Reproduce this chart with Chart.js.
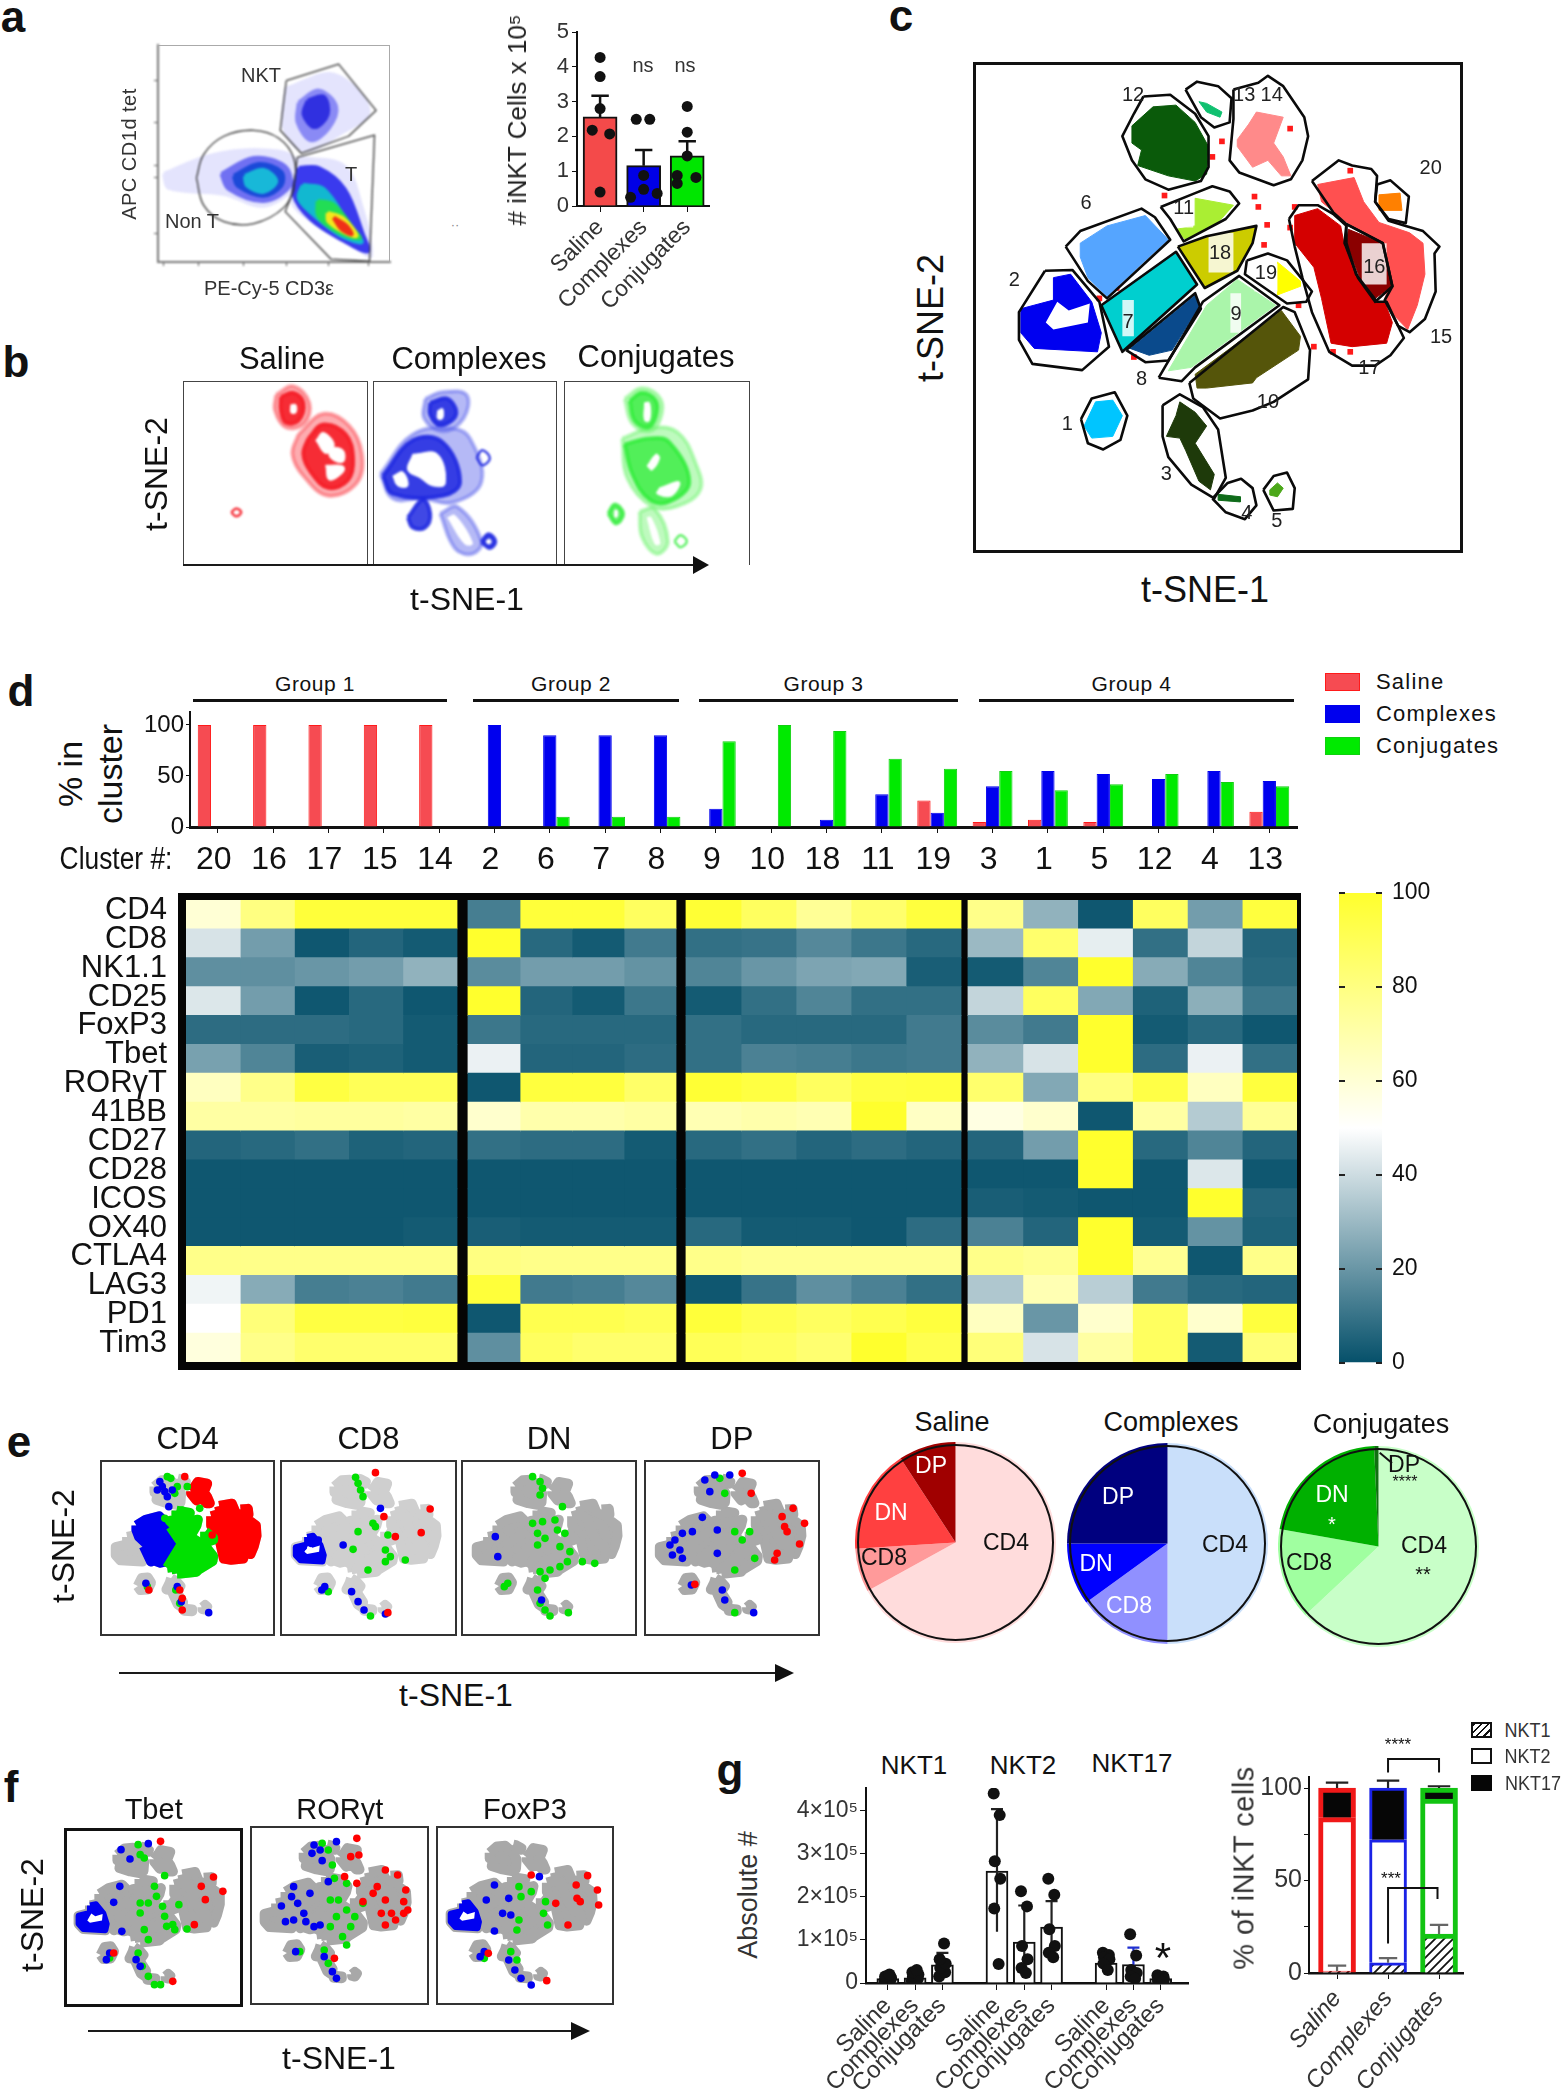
<!DOCTYPE html>
<html>
<head>
<meta charset="utf-8">
<title>iNKT t-SNE figure</title>
<script src="https://cdn.jsdelivr.net/npm/chart.js@4"></script>
<style>
  html, body { margin: 0; background: #fff; }
  #page { position: relative; width: 1561px; height: 2100px; overflow: hidden; font-family: "Liberation Sans", Arial, sans-serif; color: #111; }
  #page canvas { position: absolute; }
  .t { position: absolute; white-space: nowrap; line-height: 1; }
  .box { position: absolute; box-sizing: border-box; }
</style>
</head>
<body>
<div id="page"></div>
<script>
// ---------- data ----------
const groupNames = ["Saline", "Complexes", "Conjugates"];

// a: bars
const aMeans = [2.56, 1.16, 1.44];
const aErrorTops = [3.17, 1.61, 1.86];
const aDots = [
  [0, 4.27], [0, 3.72], [0, 2.8], [-0.18, 2.18], [0.22, 2.07], [0, 0.4],
  [0.83, 2.49], [1.14, 2.49], [1, 0.88], [0.7, 0.25], [1, 0.48], [1.31, 0.36],
  [2, 2.86], [2, 2.12], [2, 1.44], [1.77, 0.88], [2.2, 0.82], [1.77, 0.65],
];

// a: flow plot, gates and density layers (read in zoomed pixels)
const flowGates = [
  [[575,205],[680,163],[755,280],[700,345],[605,388],[563,330]],
  [[597,398],[752,342],[742,660],[665,655],[573,535],[590,480]],
];
const flowCircle = [[395,450],[410,390],[450,345],[510,330],[560,350],[590,400],[590,470],[570,525],[510,565],[450,560],[410,520],[395,450]];
const flowLayers = [
  ["#e4e4fd", [[600,400],[690,420],[725,520],[745,645],[720,630],[640,570],[585,505]]],
  ["#e4e4fd", [[330,440],[420,395],[520,380],[590,400],[590,470],[530,520],[450,490],[340,475]]],
  ["#e4e4fd", [[575,225],[670,190],[740,280],[680,340],[610,380],[570,320]]],
  ["#8a8af5", [[600,260],[640,230],[675,270],[660,325],[625,355],[598,310]]],
  ["#3030e0", [[618,255],[650,245],[658,290],[632,322],[610,290]]],
  ["#7070f2", [[445,440],[510,400],[572,420],[582,470],[530,508],[460,478]]],
  ["#1b49d8", [[470,445],[520,415],[565,435],[565,470],[528,495],[478,470]]],
  ["#18b8d8", [[492,445],[530,430],[555,458],[530,485],[497,470]]],
  ["#3a3aee", [[600,425],[640,425],[692,478],[728,590],[738,635],[690,608],[625,555],[590,492]]],
  ["#12b8d0", [[608,468],[650,478],[702,570],[726,612],[680,592],[620,532],[600,500]]],
  ["#22dd55", [[638,508],[670,518],[710,580],[722,602],[680,587],[640,547]]],
  ["#f2e81c", [[658,538],[690,553],[716,596],[690,586],[660,560]]],
  ["#f03018", [[670,550],[695,570],[706,592],[685,578]]],
];
const flowTicksX = [330, 400, 490, 575, 660, 740];
const flowTicksY = [205, 310, 420, 450, 590];

// b: contour blobs per group (zoomed pixels)
const salineOuter = [
  [[555,1000],[590,978],[622,1020],[612,1072],[575,1082],[553,1040]],
  [[600,1100],[650,1048],[702,1078],[728,1150],[718,1222],[660,1255],[610,1205],[588,1150]],
];
const salineInner = [
  [[565,1005],[590,995],[610,1020],[600,1065],[575,1070],[565,1040]],
  [[620,1110],[650,1075],[695,1100],[710,1160],[700,1215],[660,1235],[625,1195],[610,1150]],
];
const salineHoles = [
  [[585,1025],[595,1025],[595,1045],[585,1045]],
  [[635,1115],[650,1095],[672,1125],[655,1148]],
  [[660,1130],[690,1140],[690,1170],[665,1160]],
  [[655,1178],[690,1180],[690,1196],[662,1215]],
];
const salineRings = [[[465,1297],[475,1287],[485,1297],[475,1307]]];
const complexesOuter = [
  [[855,1010],[890,993],[938,1000],[932,1060],[890,1092],[853,1060]],
  [[765,1200],[830,1100],[910,1085],[945,1110],[968,1220],[910,1272],[850,1262],[790,1262]],
  [[885,1300],[920,1283],[968,1370],[950,1402],[915,1388]],
];
const complexesInner = [
  [[865,1020],[900,1010],[917,1050],[885,1077],[865,1050]],
  [[770,1205],[830,1115],[890,1120],[925,1220],[890,1255],[790,1250]],
  [[820,1310],[850,1265],[865,1300],[855,1335],[830,1335]],
  [[968,1372],[982,1352],[996,1370],[985,1387]],
];
const complexesHoles = [
  [[880,1040],[890,1035],[890,1060],[880,1060]],
  [[790,1205],[810,1195],[820,1230],[800,1230]],
  [[830,1150],[880,1150],[895,1225],[870,1230],[845,1210],[820,1190]],
  [[900,1310],[915,1305],[950,1375],[935,1377]],
  [[978,1368],[985,1365],[987,1374],[980,1376]],
];
const complexesRings = [[[958,1158],[970,1140],[985,1160],[970,1178]]];
const conjugatesOuter = [
  [[1255,1010],[1290,983],[1327,1010],[1327,1060],[1305,1092],[1270,1072]],
  [[1250,1110],[1310,1083],[1362,1095],[1397,1170],[1407,1240],[1360,1282],[1310,1282],[1260,1210]],
  [[1285,1295],[1315,1288],[1342,1370],[1320,1402],[1290,1360]],
];
const conjugatesInner = [
  [[1265,1015],[1290,995],[1318,1015],[1318,1055],[1302,1082],[1275,1065]],
  [[1255,1125],[1305,1110],[1345,1120],[1385,1220],[1345,1270],[1305,1265],[1270,1200]],
  [[1222,1300],[1235,1277],[1252,1300],[1238,1325]],
];
const conjugatesHoles = [
  [[1295,1020],[1305,1020],[1305,1065],[1295,1065]],
  [[1325,1235],[1365,1220],[1350,1255],[1320,1250]],
  [[1300,1310],[1308,1310],[1326,1375],[1316,1377]],
  [[1235,1292],[1240,1292],[1240,1308],[1235,1308]],
  [[1300,1180],[1310,1190],[1325,1160],[1318,1150]],
];
const conjugatesRings = [[[1355,1370],[1367,1355],[1380,1370],[1367,1385]]];

// c: t-SNE clusters (zoomed pixels)
const clusterGates = {
  1: [[472,1100],[500,1040],[560,1022],[593,1090],[575,1160],[530,1188],[490,1170]],
  2: [[378,670],[450,668],[520,760],[545,890],[475,958],[345,940],[310,870],[310,790]],
  3: [[685,1060],[730,1028],[790,1065],[830,1130],[850,1270],[820,1330],[760,1290],[700,1210],[685,1150]],
  4: [[815,1330],[855,1285],[890,1273],[920,1300],[930,1350],[900,1390],[850,1370]],
  5: [[948,1305],[975,1265],[1010,1255],[1030,1300],[1025,1360],[975,1365]],
  6: [[432,600],[470,555],[630,490],[665,515],[705,580],[540,750],[490,700]],
  7: [[525,770],[720,615],[775,710],[580,905]],
  8: [[590,900],[770,735],[785,780],[700,930],[640,935]],
  9: [[675,980],[790,760],[885,685],[990,770],[770,950],[735,990]],
  10: [[755,995],[1000,775],[1030,790],[1070,900],[1065,985],[975,1050],[920,1075],[835,1098],[765,1040]],
  11: [[680,485],[770,445],[815,425],[860,440],[885,475],[850,520],[740,585],[705,520]],
  12: [[635,165],[705,160],[770,215],[805,280],[805,370],[785,410],[700,435],[640,405],[605,350],[580,280],[610,215]],
  13: [[745,145],[775,122],[830,135],[865,170],[860,240],[820,255],[785,225]],
  14: [[870,145],[935,125],[960,105],[1000,135],[1055,225],[1065,280],[1050,350],[1020,405],[975,422],[885,385],[860,350],[870,230]],
  15: [[1075,410],[1145,350],[1180,365],[1230,375],[1245,395],[1240,470],[1275,525],[1320,540],[1365,555],[1408,600],[1395,620],[1398,730],[1370,810],[1330,848],[1300,830],[1265,755],[1285,715],[1260,590],[1165,535],[1130,500]],
  16: [[1165,535],[1260,590],[1285,715],[1240,760],[1195,690],[1160,590]],
  17: [[1015,520],[1040,480],[1090,480],[1130,505],[1165,540],[1165,590],[1190,680],[1245,760],[1270,760],[1300,830],[1315,865],[1280,915],[1240,945],[1180,945],[1120,905],[1075,790],[1050,690],[1030,600]],
  18: [[725,600],[800,570],[930,540],[920,590],[880,670],[795,720]],
  19: [[905,640],[960,620],[1010,640],[1075,730],[1060,760],[1010,765],[900,680]],
  20: [[1245,420],[1280,408],[1328,455],[1320,532],[1275,520],[1240,470]],
};
const clusterFills = {
  1: [[480,1120],[510,1050],[555,1045],[580,1090],[555,1150],[500,1155]],
  2: [[400,690],[445,680],[500,760],[525,850],[515,905],[350,895],[315,850],[315,780],[400,755]],
  3: [[730,1050],[770,1080],[800,1120],[770,1170],[820,1260],[810,1305],[780,1280],[745,1190],[730,1155],[695,1150],[720,1090]],
  4: [[830,1318],[888,1325],[888,1340],[830,1335]],
  5: [[965,1305],[985,1285],[1000,1300],[985,1325],[965,1320]],
  6: [[470,590],[540,540],[640,510],[700,580],[640,640],[540,745],[490,690],[470,630]],
  7: [[525,770],[720,615],[775,710],[580,905]],
  8: [[600,895],[770,740],[780,775],[710,900],[650,915]],
  9: [[700,960],[800,770],[880,695],[980,770],[760,950]],
  10: [[775,1010],[770,970],[995,785],[1045,860],[1040,900],[930,980],[920,995],[800,1010]],
  11: [[770,460],[870,480],[830,530],[745,580],[720,550],[770,540]],
  12: [[605,250],[660,195],[720,190],[770,240],[805,310],[800,390],[770,410],[700,395],[620,365],[630,320],[605,300]],
  13: [[780,180],[800,185],[840,210],[835,225],[800,210]],
  14: [[880,290],[910,245],[930,210],[1000,225],[975,300],[1000,340],[1020,395],[995,395],[960,350],[920,370],[880,310]],
  15: [[1090,420],[1185,400],[1210,470],[1250,530],[1330,560],[1365,590],[1370,680],[1350,770],[1325,840],[1290,800],[1265,750],[1280,710],[1265,600],[1160,525],[1100,470]],
  16: [[1170,550],[1260,590],[1285,715],[1240,750],[1200,690],[1165,590]],
  17: [[1030,510],[1090,490],[1150,540],[1160,600],[1190,680],[1240,760],[1265,760],[1285,820],[1270,880],[1180,890],[1125,880],[1100,750],[1080,660],[1030,590]],
  18: [[725,600],[800,570],[930,540],[920,590],[880,670],[795,720]],
  19: [[985,645],[1045,700],[1045,715],[985,740]],
  20: [[1250,450],[1305,445],[1310,495],[1250,495]],
};
const clusterColours = {
  1: "#00c5ff", 2: "#0000f0", 3: "#1e3a0a", 4: "#0f6b1a", 5: "#4ca81a", 6: "#55a5ff", 7: "#00cfcf",
  8: "#0a4a8c", 9: "#aaf5aa", 10: "#55550a", 11: "#aaee33", 12: "#0a5a0a", 13: "#10c070", 14: "#ff8a8a",
  15: "#ff5050", 16: "#8b0000", 17: "#d40000", 18: "#cccc00", 19: "#ffff00", 20: "#ff8000",
};
const clusterHole2 = [[380,820],[410,760],[440,785],[495,765],[490,820],[400,840]];
const paleBoxes = [
  [[725,465],[765,465],[765,545],[725,545]],
  [[805,560],[870,560],[870,675],[805,675]],
  [[580,755],[610,755],[610,860],[580,860]],
  [[862,735],[890,735],[890,850],[862,850]],
  [[1205,590],[1270,590],[1270,710],[1205,710]],
  [[925,650],[985,650],[985,730],[925,730]],
];
const strayRedDots = [[840,295],[815,340],[925,455],[935,485],[958,537],[950,595],[690,452],[1175,380],[1030,485],[1080,890],[1130,905],[1175,905],[1040,770],[520,750],[565,720],[610,920],[1018,545],[1018,258]];
const clusterLabels = [
  ["12",608,158],["13",898,158],["14",970,158],["20",1385,368],["6",485,472],["11",740,485],["18",835,615],
  ["19",955,675],["16",1238,655],["2",298,693],["7",595,815],["9",877,792],["15",1412,860],["17",1225,948],
  ["8",630,980],["10",960,1048],["1",436,1112],["3",695,1255],["4",905,1368],["5",983,1392],
];

// d: bars
const clusterOrder = ["20","16","17","15","14","2","6","7","8","9","10","18","11","19","3","1","5","12","4","13"];
const salinePercent = [100,100,100,100,100,0,0,0,0,0,0,0,0,26,5,7,5,0,0,15];
const complexesPercent = [0,0,0,0,0,100,90,90,90,18,0,7,32,14,40,55,52,47,55,45];
const conjugatesPercent = [0,0,0,0,0,0,10,10,10,84,100,94,67,57,55,36,42,52,44,40];

// d: heatmap
const markers = ["CD4","CD8","NK1.1","CD25","FoxP3","Tbet","RORγT","41BB","CD27","CD28","ICOS","OX40","CTLA4","LAG3","PD1","Tim3"];
const heatValues = [
  [60,80,97,97,97, 13,97,97,88, 98,88,75,85,96, 78,28,2,88,22,96],
  [42,22,2,6,3, 100,7,3,12, 9,10,16,11,7, 30,85,45,9,38,6],
  [18,18,20,22,28, 17,22,22,19, 15,20,24,25,4, 3,15,100,26,15,7],
  [43,22,2,7,2, 100,6,3,11, 3,9,15,9,9, 38,88,25,5,27,11],
  [8,8,8,7,3, 11,7,7,7, 9,7,7,7,12, 17,12,100,3,7,2],
  [23,15,4,5,3, 46,6,6,8, 9,14,13,11,12, 28,42,100,8,46,9],
  [65,78,95,90,90, 2,96,96,86, 98,95,88,95,96, 85,25,80,94,65,96],
  [72,72,73,73,72, 62,70,70,72, 68,70,68,100,64, 57,62,2,72,35,75],
  [6,7,9,5,6, 9,8,8,3, 7,9,6,8,6, 6,22,100,7,15,6],
  [2,2,2,2,2, 2,2,2,2, 2,2,2,2,2, 2,2,100,2,43,2],
  [2,2,2,2,2, 2,2,2,2, 2,2,2,2,2, 4,3,2,2,100,6],
  [2,2,2,2,3, 4,3,3,3, 7,3,3,2,8, 14,6,100,3,19,5],
  [78,78,78,78,78, 80,78,78,78, 78,76,76,76,76, 78,76,100,76,2,78],
  [47,26,13,14,12, 97,12,13,16, 2,10,18,14,9, 34,68,36,12,7,6],
  [50,82,95,95,96, 2,92,92,90, 97,92,88,92,96, 65,20,62,88,62,96],
  [58,78,85,85,85, 18,88,85,85, 90,88,84,100,92, 82,42,72,88,3,82],
];
const groupSizes = [5, 4, 5, 6];
const groupTitles = ["Group 1", "Group 2", "Group 3", "Group 4"];

// e: maps
const eNames = ["CD4", "CD8", "DN", "DP"];
const eGrays = ["#c4c4c4", "#cfcfcf", "#adadad", "#a9a9a9"];
const eClusterTints = [
  { "#ff0000": [14,15,16,17,20], "#0000f0": [6,7,8], "#00e000": [9,10,11,18,19] },
  { "#0000f0": [2] }, {}, {},
];
const eBlue = [
  [[205,290],[195,300],[215,320],[210,305],[225,300],[172,580],[298,668],[235,590],[243,635],[200,275],[218,350]],
  [[520,450],[505,460],[490,470],[570,465],[645,355],[527,600],[533,590],[587,605],[600,635],[612,660],[655,672]],
  [[875,440],[880,500],[968,630]],
  [[1250,430],[1270,425],[1235,450],[1225,465],[1245,480],[1230,495],[1250,505],[1290,382],[1320,420],[1320,490],[1295,270],[1305,305],[1315,255],[1345,255],[1268,585],[1330,600],[1335,630],[1393,668]],
];
const eGreen = [
  [[215,260],[235,290],[230,310],[222,265],[255,290],[175,590],[232,600],[240,640],[210,385],[245,360],[280,355]],
  [[595,262],[600,280],[605,300],[610,320],[600,425],[630,400],[635,410],[660,435],[655,480],[665,500],[655,515],[590,478],[695,510],[620,540],[625,678],[540,605]],
  [[950,260],[965,275],[970,295],[965,315],[950,400],[970,395],[995,390],[1000,420],[975,445],[960,430],[1005,470],[1025,485],[1020,515],[1005,530],[965,545],[985,540],[975,565],[1010,350],[1015,430],[1050,515],[1075,520],[960,465],[900,580],[893,590],[960,600],[965,640],[975,660],[985,678],[1022,668]],
  [[1355,425],[1385,425],[1370,450],[1355,540],[1325,265],[1355,668],[1335,310],[1395,505]],
];
const eRed = [
  [[250,260],[240,600],[245,625],[178,600],[245,660],[305,435]],
  [[745,357],[727,428],[635,248],[652,380],[675,440],[660,668]],
  [],
  [[1370,250],[1472,355],[1450,380],[1455,410],[1460,425],[1495,400],[1440,490],[1435,510],[1485,462],[1275,583],[1388,310]],
];

// e: pies, clockwise from the top
const pieSlices = ["CD4", "CD8", "DN", "DP"];
const salinePie = [67, 7, 16.8, 9.2];
const complexesPie = [50, 15, 10, 25];
const conjugatesPie = [63, 14.8, 21.5, 0.7];

// f: maps
const fNames = ["Tbet", "RORγt", "FoxP3"];
const fClusterTints = [{ "#0000f0": [2] }, {}, { "#0000f0": [2] }];
const fBlue = [
  [[280,398],[295,350],[300,485],[298,240],[320,268],[365,222],[262,570],[270,550],[335,570],[345,590]],
  [[770,225],[765,250],[785,240],[790,272],[825,215],[720,350],[715,380],[760,370],[690,408],[730,400],[745,430],[700,455],[720,450],[750,455],[770,470],[785,465],[725,545],[795,560],[815,605],[825,625],[805,335]],
  [[1190,390],[1210,345],[1245,385],[1230,430],[1250,435],[1210,483],[1320,320],[1175,560],[1185,545],[1245,570],[1260,600],[1275,625],[1300,645]],
];
const fGreen = [
  [[345,255],[355,265],[340,225],[405,318],[380,350],[385,380],[365,400],[345,430],[355,480],[365,510],[400,410],[405,440],[425,465],[430,480],[410,470],[440,405],[460,478],[340,550],[350,590],[365,620],[380,645],[395,645],[270,565],[345,400]],
  [[790,220],[805,240],[815,285],[820,325],[850,340],[810,390],[830,390],[850,420],[825,440],[870,440],[890,400],[810,470],[840,500],[850,525],[795,540],[735,545],[805,580],[860,470]],
  [[1270,350],[1300,365],[1275,380],[1335,395],[1330,430],[1340,465],[1270,450],[1265,480],[1250,545],[1265,570],[1185,565]],
];
const fRed = [
  [[395,215],[525,322],[495,350],[505,390],[548,365],[478,465],[425,635],[280,550]],
  [[875,205],[860,260],[880,255],[845,320],[875,340],[890,395],[945,300],[975,315],[925,350],[915,370],[945,390],[995,360],[990,395],[935,430],[960,430],[990,430],[1000,420],[945,465],[970,450],[820,565]],
  [[1438,317],[1410,345],[1462,360],[1412,385],[1420,395],[1465,405],[1390,465],[1300,315],[1195,550],[1338,632],[1360,400]],
];

// g: absolute numbers (x 10^5)
const gSets = ["NKT1", "NKT2", "NKT17"];
const gSlots = [0, 1, 2, 4, 5, 6, 8, 9, 10];
const gMeans = [0.1, 0.12, 0.42, 2.6, 0.95, 1.3, 0.46, 0.43, 0.1];
const gErrorLows = [0.05, 0.05, 0.15, 1.19, 0.4, 0.7, 0.2, 0.1, 0.05];
const gErrorHighs = [0.18, 0.25, 0.7, 4.04, 1.8, 1.9, 0.72, 0.82, 0.16];
const gDots = [
  [.05,.08,.1,.12,.15,.2], [.05,.1,.15,.2,.25,.3], [.15,.25,.35,.45,.55,.92],
  [4.4,3.9,2.83,2.42,1.73,.44], [2.13,1.78,.86,.55,.35,.23], [2.42,2.05,1.25,.86,.7,.6],
  [.7,.65,.6,.55,.45,.3], [1.13,.64,.3,.23,.15,.1], [.18,.15,.1,.08,.05,.03],
];
const gJitter = [-0.12, 0.1, -0.08, 0.12, -0.1, 0.06];
const gTicks = [0, 1, 2, 3, 4];

// g: stacked percentages
const nkt1Share = [1, 5.5, 21];
const nkt2Share = [83, 66.5, 73];
const nkt17Share = [16, 28, 6];
const shareErrorTops = [103, 104, 101];
const nkt1ErrorTops = [4, 8, 26];

// ---------- helpers ----------
const page = document.getElementById("page");
Chart.defaults.font.family = '"Liberation Sans", Arial, sans-serif';
Chart.defaults.color = "#111";
Chart.defaults.animation = false;
Chart.defaults.events = [];
Chart.defaults.plugins.legend.display = false;
Chart.defaults.plugins.tooltip.enabled = false;

function label(x, y, str, size, opts = {}) {
  const d = document.createElement("div");
  d.className = "t";
  d.textContent = str;
  d.style.left = x + "px";
  d.style.top = y + "px";
  d.style.fontSize = size + "px";
  d.style.transform = `translate(-50%,-50%) rotate(${opts.rot || 0}deg) scaleX(${opts.sx || 1})`;
  if (opts.color) d.style.color = opts.color;
  if (opts.weight) d.style.fontWeight = opts.weight;
  if (opts.spacing) d.style.letterSpacing = opts.spacing;
  page.appendChild(d);
  return d;
}

function rect(x0, y0, x1, y1, css) {
  const d = document.createElement("div");
  d.className = "box";
  d.style.cssText += `left:${x0}px;top:${y0}px;width:${x1 - x0}px;height:${y1 - y0}px;${css}`;
  page.appendChild(d);
  return d;
}

function arrow(x0, x1, y, thick, headLen, headHalf) {
  rect(x0, y - thick / 2, x1 - headLen + 2, y + thick / 2, "background:#1a1a1a");
  rect(x1 - headLen, y - headHalf, x1, y + headHalf,
    `width:0;height:0;border-left:${headLen}px solid #111;border-top:${headHalf}px solid transparent;border-bottom:${headHalf}px solid transparent`);
}

// Plot area in page pixels plus a margin around it for the axes
function drawChart(area, pad, config) {
  const [x0, y0, x1, y1] = area;
  const { l = 0, r = 0, t = 0, b = 0 } = pad;
  const canvas = document.createElement("canvas");
  canvas.width = Math.round(x1 - x0 + l + r);
  canvas.height = Math.round(y1 - y0 + t + b);
  canvas.style.left = x0 - l + "px";
  canvas.style.top = y0 - t + "px";
  page.appendChild(canvas);
  const padding = { left: l, right: r, top: t, bottom: b };
  const scales = config.options.scales || {};
  const noPadding = (a) => { a.paddingTop = a.paddingBottom = a.paddingLeft = a.paddingRight = 0; };
  for (const id in scales) {
    const s = scales[id];
    if (s.display === false) continue;
    if (id === "x") { s.afterFit = (a) => { a.height = b; noPadding(a); }; padding.bottom = 0; }
    if (id === "y" && s.position === "right") { s.afterFit = (a) => { a.width = r; noPadding(a); }; padding.right = 0; }
    else if (id === "y") { s.afterFit = (a) => { a.width = l; noPadding(a); }; padding.left = 0; }
  }
  config.options.responsive = false;
  config.options.layout = { autoPadding: false, padding };
  return new Chart(canvas, config);
}

function shape(points, fillColour, lineColour, lineWidth = 0, more = {}) {
  const closed = [...points, points[0]].map(([x, y]) => ({ x, y }));
  return {
    type: "scatter", showLine: true, data: closed, pointRadius: 0, tension: 0, borderJoinStyle: "round",
    fill: fillColour ? "shape" : false,
    backgroundColor: fillColour || "transparent",
    borderColor: lineColour || "transparent",
    borderWidth: lineWidth,
    ...more,
  };
}

function path(points, colour, width, more = {}) {
  return {
    type: "scatter", showLine: true, data: points.map(([x, y]) => ({ x, y })), pointRadius: 0, tension: 0,
    fill: false, borderColor: colour, borderWidth: width, ...more,
  };
}

function dots(points, colour, radius, more = {}) {
  return {
    type: "scatter", data: points.map(([x, y]) => ({ x, y })), pointRadius: radius,
    pointBackgroundColor: colour, pointBorderWidth: 0, showLine: false, ...more,
  };
}

// Error bar stem and cap as one line dataset
function errorBar(x, low, high, cap, colour, width = 2, more = {}) {
  return path([[x, low], [x, high], [x - cap, high], [x + cap, high]], colour, width, more);
}

// Chart.js paints the first dataset last, so layers listed bottom first get reversed
const bottomUp = (layers) => layers.slice().reverse();

function hiddenScales(xr, yr) {
  return {
    x: { type: "linear", display: false, min: xr[0], max: xr[1] },
    y: { type: "linear", display: false, min: yr[0], max: yr[1], reverse: true },
  };
}

function heatColour(v) {
  const low = [5, 80, 106], mid = [255, 255, 255], high = [255, 255, 45];
  const [a, b, t] = v < 50 ? [low, mid, v / 50] : [mid, high, (v - 50) / 50];
  const c = a.map((ch, i) => Math.round(ch + (b[i] - ch) * t));
  return `rgb(${c[0]},${c[1]},${c[2]})`;
}

// ---------- panel letters ----------
[["a",13,17],["b",16,362],["c",901,16],["d",21,691],["e",19,1442],["f",11,1787],["g",730,1770]].forEach(([s, x, y]) =>
  label(x, y, s, 44, { weight: "bold" }));

// ---------- a: flow plot ----------
const flowChart = drawChart([158, 45, 390, 262], { l: 8, b: 8, t: 2, r: 2 }, {
  type: "scatter",
  data: { datasets: bottomUp([
    ...flowLayers.map(([c, p]) => shape(p, c, c, 4, { tension: 0.35 })),
    ...flowGates.map((g) => shape(g, null, "#333", 1.3)),
    path(flowCircle, "#333", 1.3, { tension: 0.4 }),
  ]) },
  options: { scales: {
    x: { type: "linear", min: 318, max: 783, border: { color: "#777", width: 2 },
      grid: { drawOnChartArea: false, color: "#555", tickLength: 4 },
      afterBuildTicks: (a) => { a.ticks = flowTicksX.map((value) => ({ value })); },
      ticks: { callback: () => "" } },
    y: { type: "linear", min: 115, max: 662, reverse: true, border: { color: "#777", width: 2 },
      grid: { drawOnChartArea: false, color: "#555", tickLength: 4 },
      afterBuildTicks: (a) => { a.ticks = flowTicksY.map((value) => ({ value })); },
      ticks: { callback: () => "" } },
  } },
});
flowChart.canvas.style.filter = "blur(0.9px)";
rect(158, 45, 390, 262, "border-top:1.5px solid #aaa;border-right:1.5px solid #aaa");
label(261, 75, "NKT", 20, { color: "#333" });
label(192, 221, "Non T", 20, { color: "#333" });
label(351, 174, "T", 20, { color: "#333" });
label(269, 288, "PE-Cy-5 CD3ε", 20, { color: "#333" });
label(129, 154, "APC CD1d tet", 20, { rot: -90, color: "#333", spacing: "0.5px" });
label(455, 224, "··", 13, { color: "#888" });

// ---------- a: bars ----------
drawChart([577, 32.4, 709, 206], { l: 60, b: 110, t: 10, r: 4 }, {
  type: "bar",
  data: { datasets: bottomUp([
    { type: "bar", data: aMeans.map((y, x) => ({ x, y })), barThickness: 34,
      backgroundColor: ["#f44a4a", "#0000e6", "#00e600"], borderColor: "#111", borderWidth: 2 },
    ...aMeans.map((m, i) => errorBar(i, m, aErrorTops[i], 0.2, "#111", 2.5)),
    dots(aDots, "#111", 5.5),
  ]) },
  options: { scales: {
    x: { type: "linear", min: -0.53, max: 2.5, offset: false,
      border: { color: "#111", width: 2 }, grid: { drawOnChartArea: false, color: "#111", tickLength: 6, offset: false },
      afterBuildTicks: (a) => { a.ticks = groupNames.map((_, value) => ({ value })); },
      ticks: { autoSkip: false, minRotation: 45, maxRotation: 45, padding: 2, color: "#333", font: { size: 23 },
        callback: (v, i) => groupNames[i] } },
    y: { type: "linear", min: 0, max: 5, border: { color: "#111", width: 2 },
      grid: { drawOnChartArea: false, color: "#111", tickLength: 5 },
      ticks: { stepSize: 1, color: "#333", padding: 3, font: { size: 22 } } },
  } },
});
label(517, 120, "# iNKT Cells x 10⁵", 26, { rot: -90, color: "#222" });
label(643, 65, "ns", 20, { color: "#333" });
label(685, 65, "ns", 20, { color: "#333" });

// ---------- b: contour panels ----------
function contourPanel(xr, outer, inner, holes, rings, colour, outerAlpha) {
  const yr = [965, 1430];
  const soft = { tension: 0.4 };
  const c = drawChart([xr[0] / 2.01, yr[0] / 2.53, xr[1] / 2.01, yr[1] / 2.53], {}, {
    type: "scatter",
    data: { datasets: bottomUp([
      ...outer.map((p) => shape(p, outerAlpha, outerAlpha, 4, soft)),
      ...inner.map((p) => shape(p, colour, colour, 4, soft)),
      ...holes.map((p) => shape(p, "#fff", "#fff", 1, soft)),
      ...rings.map((p) => shape(p, null, colour, 2.5, soft)),
    ]) },
    options: { scales: hiddenScales(xr, yr) },
  });
  c.canvas.style.filter = "blur(1.2px)";
  rect(xr[0] / 2.01, yr[0] / 2.53, xr[1] / 2.01, yr[1] / 2.53, "border:1.5px solid #444;border-bottom:none");
}
contourPanel([368, 740], salineOuter, salineInner, salineHoles, salineRings, "rgba(245,30,40,0.9)", "rgba(250,70,80,0.45)");
contourPanel([750, 1120], complexesOuter, complexesInner, complexesHoles, complexesRings, "rgba(30,40,225,0.85)", "rgba(90,100,235,0.45)");
contourPanel([1133, 1507], conjugatesOuter, conjugatesInner, conjugatesHoles, conjugatesRings, "rgba(40,235,50,0.72)", "rgba(110,245,110,0.45)");
arrow(183, 709, 565, 2, 16, 9);
label(282, 358, "Saline", 31);
label(469, 358, "Complexes", 31);
label(656, 356, "Conjugates", 31);
label(156, 474, "t-SNE-2", 32, { rot: -90 });
label(467, 599, "t-SNE-1", 32);

// ---------- c: t-SNE clusters ----------
const clusterIds = Object.keys(clusterGates);
const tsneChart = drawChart([972.7, 62.4, 1463.3, 553], {}, {
  type: "scatter",
  data: { datasets: bottomUp([
    dots(strayRedDots, "#ff1a1a", 4, { pointStyle: "rect" }),
    ...clusterIds.map((id) => shape(clusterFills[id], clusterColours[id], clusterColours[id], 1)),
    shape(clusterHole2, "#fff"),
    ...paleBoxes.map((p) => shape(p, "rgba(255,255,255,0.82)")),
    ...clusterIds.map((id) => shape(clusterGates[id], null, "#0a0a0a", 2.6)),
  ]) },
  options: { scales: hiddenScales([190, 1472], [65, 1488]) },
});
tsneChart.canvas.style.filter = "blur(0.6px)";
rect(972.7, 62.4, 1463.3, 553, "border:3.5px solid #111");
clusterLabels.forEach(([s, x, y]) => {
  const px = tsneChart.canvas.offsetLeft + tsneChart.scales.x.getPixelForValue(x);
  const py = tsneChart.canvas.offsetTop + tsneChart.scales.y.getPixelForValue(y);
  label(px, py, s, 20, { color: "#222" });
});
label(931, 318, "t-SNE-2", 36, { rot: -90 });
label(1205, 590, "t-SNE-1", 36);

// ---------- d: cluster bars ----------
const barSeries = [
  ["Saline", salinePercent, "#f64b52", "#ff1a1a"],
  ["Complexes", complexesPercent, "#0000ee", "#0000ee"],
  ["Conjugates", conjugatesPercent, "#00ea00", "#10d010"],
];
drawChart([190.3, 712, 1297.7, 827], { l: 60, b: 50, t: 6, r: 6 }, {
  type: "bar",
  data: { labels: clusterOrder, datasets: barSeries.map(([name, values, fill, line]) => ({
    label: name, data: values, backgroundColor: fill, borderColor: line, borderWidth: 1,
    barPercentage: 1, categoryPercentage: 0.72,
  })) },
  options: { scales: {
    x: { border: { color: "#111", width: 3 }, grid: { drawOnChartArea: false, offset: false, color: "#111", tickLength: 6 },
      ticks: { autoSkip: false, maxRotation: 0, padding: 8, labelOffset: -4, font: { size: 32 } } },
    y: { min: 0, max: 112.7, border: { color: "#111", width: 2 }, grid: { drawOnChartArea: false, color: "#111", tickLength: 4 },
      ticks: { stepSize: 50, includeBounds: false, padding: 2, font: { size: 24 } } },
  } },
});
label(70, 774, "% in", 34, { rot: -90 });
label(110, 774, "cluster", 34, { rot: -90 });
label(116, 858, "Cluster #:", 31, { sx: 0.85 });
[[193, 447], [473, 679], [699, 958], [979, 1294]].forEach(([a, b], i) => {
  rect(a, 699, b, 701.5, "background:#111");
  label((a + b) / 2 - 5, 683, groupTitles[i], 21, { spacing: "0.6px" });
});
barSeries.forEach(([name, , fill, line], i) => {
  const y = [682, 714, 746][i];
  rect(1325, y - 9, 1360, y + 9, `background:${fill};border:1px solid ${line}`);
  label(1376, y, name, 22, { spacing: "1.2px" }).style.transform = "translate(0,-50%)";
});

// ---------- d: heatmap ----------
rect(178, 893, 1301, 1370, "background:#050505");
const groupColumnWidths = [54.2, 52, 55, 54.83];
const groupGapWidths = [11, 10, 7, 0];
const columnEdges = [];
let edge = 0;
groupSizes.forEach((n, g) => {
  for (let c = 0; c < n; c++) { columnEdges.push([edge, edge + groupColumnWidths[g]]); edge += groupColumnWidths[g]; }
  edge += groupGapWidths[g];
});
drawChart([186, 900, 1297, 1362], { l: 186, t: 10, b: 10 }, {
  type: "bar",
  data: { labels: markers, datasets: columnEdges.map(([from, to], c) => ({
    data: markers.map(() => [from, to]),
    backgroundColor: heatValues.map((row) => heatColour(row[c])),
    grouped: false, barPercentage: 1, categoryPercentage: 1, borderWidth: 0, inflateAmount: 0.4,
  })) },
  options: { indexAxis: "y", scales: {
    x: { type: "linear", display: false, min: 0, max: edge },
    y: { border: { display: false }, grid: { display: false },
      ticks: { autoSkip: false, padding: 11, labelOffset: -4, font: { size: 31 } } },
  } },
});

// ---------- d: colour bar ----------
drawChart([1339, 893, 1382, 1363], { r: 70, l: 2, t: 14, b: 14 }, {
  type: "bar",
  data: { labels: [""], datasets: [{
    data: [100], barPercentage: 1, categoryPercentage: 1, borderWidth: 0,
    backgroundColor: (ctx) => {
      const a = ctx.chart.chartArea;
      if (!a) return "#fff";
      const g = ctx.chart.ctx.createLinearGradient(0, a.bottom, 0, a.top);
      [0, 50, 100].forEach((v) => g.addColorStop(v / 100, heatColour(v)));
      return g;
    },
  }] },
  options: { scales: {
    x: { display: false },
    y: { position: "right", min: 0, max: 100, border: { dash: [6, 31, 6], display: false },
      grid: { z: 1, color: "#222", lineWidth: 2, drawTicks: false },
      ticks: { stepSize: 20, padding: 10, font: { size: 23 } } },
  } },
});

// ---------- e and f: small t-SNE maps ----------
function mapPanel(area, zoomX, zoomY, cRange, gray, tints, blue, green, red, frame) {
  const tintOf = {};
  Object.entries(tints).forEach(([colour, ids]) => ids.forEach((id) => { tintOf[id] = colour; }));
  const onZoom = { xAxisID: "xp", yAxisID: "yp" };
  const scales = hiddenScales([cRange[0], cRange[1]], [cRange[2], cRange[3]]);
  scales.xp = { type: "linear", axis: "x", display: false, min: zoomX[0], max: zoomX[1] };
  scales.yp = { type: "linear", axis: "y", display: false, min: zoomY[0], max: zoomY[1], reverse: true };
  const c = drawChart(area, {}, {
    type: "scatter",
    data: { datasets: bottomUp([
      ...clusterIds.map((id) => shape(clusterFills[id], gray, gray, 10)),
      ...clusterIds.filter((id) => tintOf[id]).map((id) => shape(clusterFills[id], tintOf[id], tintOf[id], id === "2" ? 6 : 10)),
      ...(tintOf[2] ? [shape(clusterHole2, "#fff")] : []),
      dots(green, "#00e000", 3.8, onZoom),
      dots(blue, "#0000f0", 3.8, onZoom),
      dots(red, "#ff0000", 3.8, onZoom),
    ]) },
    options: { scales },
  });
  c.canvas.style.filter = "blur(0.7px)";
  rect(area[0], area[1], area[2], area[3], frame);
}
[[80, 433], [443, 797], [806, 1160], [1173, 1528]].forEach((zx, i) => {
  const area = [zx[0] / 2.01 + 60, 1460, zx[1] / 2.01 + 60, 1636];
  mapPanel(area, zx, [210, 738], [197, 1516, 18, 1556], eGrays[i], eClusterTints[i], eBlue[i], eGreen[i], eRed[i], "border:2px solid #333");
  label((area[0] + area[2]) / 2, 1438, eNames[i], 31);
});
label(63, 1546, "t-SNE-2", 32, { rot: -90 });
arrow(119, 794, 1673, 2.6, 19, 9);
label(456, 1695, "t-SNE-1", 32);

[[158, 595, 175, 712], [613, 1052, 168, 705], [1067, 1505, 168, 705]].forEach(([a, b, c, d], i) => {
  const area = [a / 2.45, c / 3 + 1770, b / 2.45, d / 3 + 1770];
  mapPanel(area, [a, b], [c, d], [206, 1536, 18, 1572], "#a8a8a8", fClusterTints[i], fBlue[i], fGreen[i], fRed[i],
    i === 0 ? "border:3px solid #111" : "border:2px solid #333");
  label((area[0] + area[2]) / 2, 1809, fNames[i], 29);
});
label(32, 1915, "t-SNE-2", 32, { rot: -90 });
arrow(88, 590, 2031, 2.6, 19, 9);
label(339, 2058, "t-SNE-1", 32);

// ---------- e: pies ----------
function pieChart(cx, cy, r, values, colours) {
  const size = r + 2;
  drawChart([cx - size, cy - size, cx + size, cy + size], {}, {
    type: "pie",
    data: { labels: pieSlices, datasets: [{ data: values, backgroundColor: colours, borderWidth: 0 }] },
    options: { layout: {} },
  });
  rect(cx - r, cy - r, cx + r, cy + r, "border:2px solid #111;border-radius:50%");
}
pieChart(955.5, 1542.5, 98.5, salinePie, ["#ffdcdc", "#ff9a9a", "#ff4040", "#a00000"]);
pieChart(1167.5, 1543.5, 98.5, complexesPie, ["#c9dffa", "#9090ff", "#0000ff", "#00007f"]);
pieChart(1378.5, 1546, 98.5, conjugatesPie, ["#c8ffc8", "#a0ffa0", "#00b000", "#107010"]);
label(952, 1422, "Saline", 27);
label(1171, 1422, "Complexes", 27);
label(1381, 1424, "Conjugates", 27);
[
  ["CD4",1006,1542,"#111"],["CD8",884,1557,"#111"],["DN",891,1512,"#fff"],["DP",931,1465,"#fff"],
  ["CD4",1225,1544,"#111"],["CD8",1129,1605,"#fff"],["DN",1096,1563,"#fff"],["DP",1118,1496,"#fff"],
  ["CD4",1424,1545,"#111"],["CD8",1309,1562,"#111"],["DN",1332,1494,"#fff"],["DP",1404,1464,"#111"],
].forEach(([s, x, y, c]) => label(x, y, s, 23, { color: c }));
label(1423, 1574, "**", 20);
label(1332, 1524, "*", 20, { color: "#fff" });
label(1405, 1482, "****", 16);
rect(1378, 1457, 1394, 1458.5, "background:#111;transform:rotate(40deg)");

// ---------- g: absolute numbers ----------
const gCategoryNames = gSlots.map((_, i) => groupNames[i % 3]);
drawChart([866, 1788, 1188, 1983], { l: 90, b: 115, t: 6, r: 6 }, {
  type: "bar",
  data: { datasets: bottomUp([
    { type: "bar", data: gSlots.map((x, i) => ({ x, y: gMeans[i] })), barThickness: 22,
      backgroundColor: "#fff", borderColor: "#111", borderWidth: 2 },
    ...gSlots.map((x, i) => errorBar(x, gErrorLows[i], gErrorHighs[i], 0.22, i === 7 ? "#2030d0" : "#222", 2.2)),
    ...gSlots.map((x, i) => dots(gDots[i].map((v, k) => [x + gJitter[k], v]), "#111", 6)),
  ]) },
  options: { scales: {
    x: { type: "linear", min: -0.8, max: 11, offset: false,
      border: { color: "#111", width: 2.5 }, grid: { drawOnChartArea: false, offset: false, color: "#111", tickLength: 7 },
      afterBuildTicks: (a) => { a.ticks = gSlots.map((value) => ({ value })); },
      ticks: { autoSkip: false, minRotation: 45, maxRotation: 45, padding: 2, color: "#333", font: { size: 24 },
        callback: (v, i) => gCategoryNames[i] } },
    y: { type: "linear", min: 0, max: 4.53, border: { color: "#111", width: 2 },
      grid: { drawOnChartArea: false, color: "#111", tickLength: 6 },
      afterBuildTicks: (a) => { a.ticks = gTicks.map((value) => ({ value })); },
      ticks: { padding: 2, color: "#333", font: { size: 23 }, callback: (v) => (v === 0 ? "0" : `${v}×10⁵`) } },
  } },
});
label(748, 1895, "Absolute #", 27, { rot: -90, color: "#333" });
gSets.forEach((s, i) => label([914, 1023, 1132][i], i === 2 ? 1763 : 1765, s, 26));
label(1163, 1958, "*", 42);

// ---------- g: stacked shares ----------
const shareOutline = ["#f01818", "#1a22e6", "#12c412"];
const shareOutlineWidth = [5, 3, 5];
function hatchPattern() {
  const p = document.createElement("canvas");
  p.width = p.height = 9;
  const x = p.getContext("2d");
  x.fillStyle = "#fff"; x.fillRect(0, 0, 9, 9);
  x.strokeStyle = "#111"; x.lineWidth = 1.8;
  x.beginPath(); x.moveTo(-2, 11); x.lineTo(11, -2); x.moveTo(-2, 2); x.lineTo(2, -2); x.moveTo(7, 11); x.lineTo(11, 7); x.stroke();
  return x.createPattern(p, "repeat");
}
const hatch = hatchPattern();
const shareBar = (values, fill) => ({
  type: "bar", data: values.map((y, x) => ({ x, y })), barThickness: 37, stack: "share",
  backgroundColor: fill, borderColor: shareOutline, borderWidth: shareOutlineWidth,
});
const noClip = { clip: false };
// Every line sits in its own stack so the stacked axis leaves its values alone
const shareLines = [
  path([[1, 108.5], [1, 115.8], [2, 115.8], [2, 108.5]], "#111", 2, noClip),
  path([[1, 16], [1, 46], [1.97, 46], [1.97, 40]], "#111", 2),
  ...shareErrorTops.map((top, i) => errorBar(i, 100, top, 0.22, "#222", 2.2, noClip)),
  ...nkt1ErrorTops.map((top, i) => errorBar(i, nkt1Share[i], top, 0.18, "#666", 2.2)),
].map((d, i) => ({ ...d, stack: "line" + i }));
drawChart([1309, 1777, 1463, 1973], { l: 60, b: 115, t: 30, r: 10 }, {
  type: "bar",
  data: { datasets: [
    ...shareLines,
    shareBar(nkt1Share, hatch), shareBar(nkt2Share, "#fff"), shareBar(nkt17Share, "#060606"),
  ] },
  options: { scales: {
    x: { type: "linear", min: -0.55, max: 2.47, offset: false,
      border: { color: "#111", width: 2.5 }, grid: { drawOnChartArea: false, offset: false, color: "#111", tickLength: 6 },
      afterBuildTicks: (a) => { a.ticks = groupNames.map((_, value) => ({ value })); },
      ticks: { autoSkip: false, minRotation: 50, maxRotation: 50, padding: 6, color: "#333",
        font: { size: 24, style: "italic" }, callback: (v, i) => groupNames[i] } },
    y: { type: "linear", min: 0, max: 106, stacked: true, border: { color: "#111", width: 2 },
      grid: { drawOnChartArea: false, color: "#111", tickLength: 5 },
      afterBuildTicks: (a) => { a.ticks = [0, 25, 50, 75, 100].map((value) => ({ value })); },
      ticks: { padding: 2, color: "#333", font: { size: 25 }, callback: (v) => (v % 50 === 0 ? v : "") } },
  } },
});
label(1244, 1868, "% of iNKT cells", 29, { rot: -90, color: "#333", spacing: "0.5px" });
label(1398, 1744, "****", 17);
label(1391, 1878, "***", 17);
[["NKT1", 1730, "repeating-linear-gradient(135deg,#111 0 2px,#fff 2px 5px);border:2px solid #111"],
 ["NKT2", 1756, "#fff;border:2px solid #111"],
 ["NKT17", 1783, "#060606"]].forEach(([s, y, bg]) => {
  rect(1471, y - 8, 1492, y + 8, `background:${bg}`);
  label(1502, y, s, 20, { color: "#333", sx: 0.9 }).style.transform = "translate(0,-50%) scaleX(0.9)";
});
</script>
</body>
</html>
